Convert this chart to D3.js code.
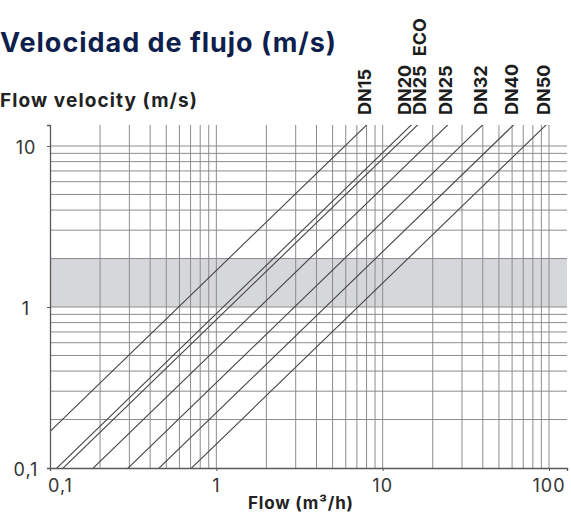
<!DOCTYPE html>
<html>
<head>
<meta charset="utf-8">
<script src="https://cdn.jsdelivr.net/npm/d3@7"></script>
<style>
  body { margin: 0; background: #fff; }
  text { font-family: Inter, "Open Sans", sans-serif; }
</style>
</head>
<body>
<script>

var width = 571,
    height = 513;

// pipe sizes and the flow (m3/h) each one carries at 1 m/s
var pipes = ["DN15", "DN20", "DN25 ECO", "DN25", "DN32", "DN40", "DN50"];
var flowAt1 = [0.593, 1.10, 1.20, 1.82, 2.95, 4.53, 7.10];

var xTicks = [0.1, 1, 10, 100],
    xTickLabels = ["0,1", "1", "10", "100"];
var yTicks = [0.1, 1, 10],
    yTickLabels = ["0,1", "1", "10"];

// recommended velocity band (m/s)
var band = [1, 2];

var x = d3.scaleLog().domain([0.1, 100]).range([50, 549]);
var y = d3.scaleLog().domain([0.1, 10]).range([468, 146]);

var xMax = x.invert(567),
    yMax = y.invert(125);
x.domain([0.1, xMax]).range([50, 567]);
y.domain([0.1, yMax]).range([468, 125]);

var svg = d3.select("body").append("svg")
    .attr("width", width)
    .attr("height", height);

svg.append("defs").append("clipPath")
    .attr("id", "plot")
  .append("rect")
    .attr("x", x(0.1)).attr("y", y(yMax))
    .attr("width", x(xMax) - x(0.1))
    .attr("height", y(0.1) - y(yMax));

// grey band
svg.append("rect")
    .attr("x", x(0.1))
    .attr("y", y(band[1]))
    .attr("width", x(xMax) - x(0.1))
    .attr("height", y(band[0]) - y(band[1]))
    .attr("fill", "#d6d7db");

// log grid
var gridX = [], gridY = [];
[0.1, 1, 10].forEach(function(d) {
  for (var i = 1; i <= 9; i++) gridX.push(d * i), gridY.push(d * i);
});
gridX.push(100);
gridY = gridY.filter(function(d) { return d < 10; });
gridY.push(10);

svg.append("g").selectAll("line")
    .data(gridX.slice(1))
    .enter().append("line")
    .attr("x1", function(d) { return x(d); })
    .attr("x2", function(d) { return x(d); })
    .attr("y1", y(yMax))
    .attr("y2", y(0.1))
    .attr("stroke", "#8c8c8c")
    .attr("stroke-width", 1);

svg.append("g").selectAll("line")
    .data(gridY.slice(1))
    .enter().append("line")
    .attr("x1", x(0.1))
    .attr("x2", x(xMax))
    .attr("y1", function(d) { return y(d); })
    .attr("y2", function(d) { return y(d); })
    .attr("stroke", "#8c8c8c")
    .attr("stroke-width", 1);

// pipe lines
var line = d3.line()
    .x(function(d) { return x(d[0]); })
    .y(function(d) { return y(d[1]); });

svg.append("g")
    .attr("clip-path", "url(#plot)")
  .selectAll("path")
    .data(flowAt1)
    .enter().append("path")
    .attr("d", function(q) { return line([[q * 0.05, 0.05], [q * 20, 20]]); })
    .attr("fill", "none")
    .attr("stroke", "#444")
    .attr("stroke-width", 1.1);

// axes
var xAxis = d3.axisBottom(x).tickValues(xTicks).tickSize(3).tickFormat("");
var yAxis = d3.axisLeft(y).tickValues(yTicks).tickSize(3).tickFormat("");

svg.append("g")
    .attr("transform", "translate(0," + y(0.1) + ")")
    .call(xAxis)
    .call(function(g) {
      g.select(".domain").attr("stroke", "#5a5a5a").attr("stroke-width", 1.3);
      g.selectAll(".tick line").attr("stroke", "#5a5a5a");
    });

svg.append("g")
    .attr("transform", "translate(" + x(0.1) + ",0)")
    .call(yAxis)
    .call(function(g) {
      g.select(".domain").attr("stroke", "#5a5a5a").attr("stroke-width", 1.3);
      g.selectAll(".tick line").attr("stroke", "#5a5a5a");
    });

// tick labels
svg.append("g").selectAll("text")
    .data(xTicks)
    .enter().append("text")
    .attr("x", function(d, i) { return i === 0 ? x(d) - 2 : x(d); })
    .attr("y", 492)
    .attr("text-anchor", function(d, i) { return i === 0 ? "start" : "middle"; })
    .attr("font-size", 18)
    .attr("letter-spacing", 1)
    .attr("fill", "#333")
    .text(function(d, i) { return xTickLabels[i]; });

svg.append("g").selectAll("text")
    .data(yTicks)
    .enter().append("text")
    .attr("x", 26)
    .attr("y", function(d) { return y(d) + 8; })
    .attr("text-anchor", "middle")
    .attr("font-size", 18)
    .attr("letter-spacing", 1)
    .attr("fill", "#333")
    .text(function(d, i) { return yTickLabels[i]; });

// pipe labels, placed over where each line leaves the top
var labelX = flowAt1.map(function(q) { return x(q * yMax) - 2; });
for (var i = 1; i < labelX.length; i++) {
  var gap = labelX[i] - labelX[i - 1];
  if (gap < 15) {
    var push = (15 - gap) / 2;
    labelX[i - 1] -= push;
    labelX[i] += push;
  }
}

svg.append("g").selectAll("text")
    .data(pipes)
    .enter().append("text")
    .attr("transform", function(d, i) { return "translate(" + labelX[i] + ",115) rotate(-90)"; })
    .attr("dy", "0.36em")
    .attr("font-size", 18)
    .attr("font-weight", "bold")
    .attr("word-spacing", 5)
    .attr("fill", "#1c1c1c")
    .text(function(d) { return d; });

// titles
svg.append("text")
    .attr("x", 0)
    .attr("y", 52)
    .attr("font-size", 27)
    .attr("font-weight", "bold")
    .attr("textLength", 336)
    .attr("fill", "#0f1f4d")
    .text("Velocidad de flujo (m/s)");

svg.append("text")
    .attr("x", 0)
    .attr("y", 107)
    .attr("font-size", 19)
    .attr("font-weight", "bold")
    .attr("textLength", 197)
    .attr("fill", "#222")
    .text("Flow velocity (m/s)");

svg.append("text")
    .attr("x", 248)
    .attr("y", 509)
    .attr("font-size", 17)
    .attr("font-weight", "bold")
    .attr("textLength", 105)
    .attr("fill", "#222")
    .text("Flow (m³/h)");

</script>
</body>
</html>
